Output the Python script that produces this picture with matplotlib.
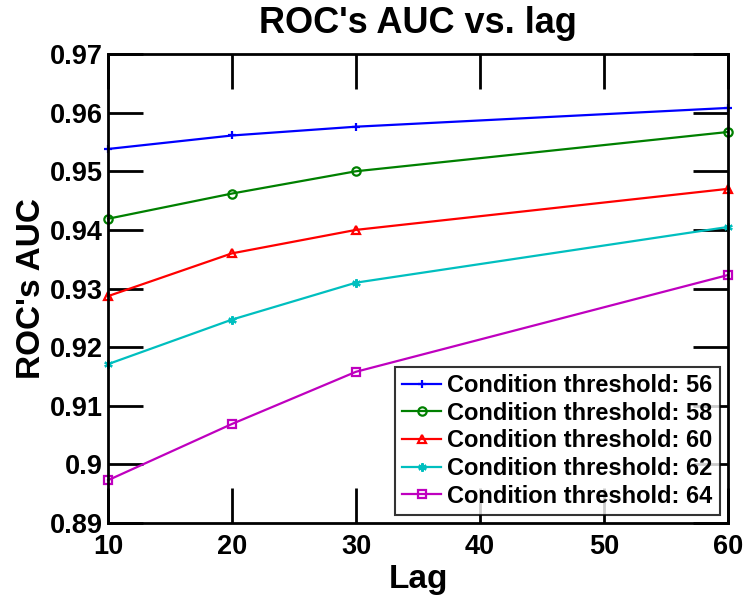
import matplotlib
matplotlib.use("Agg")
import matplotlib.pyplot as plt

# Data
lags = [10, 20, 30, 60]
thresholds = [56, 58, 60, 62, 64]
auc_56 = [0.9538, 0.9561, 0.9576, 0.9608]
auc_58 = [0.9419, 0.9462, 0.9500, 0.9567]
auc_60 = [0.9287, 0.9360, 0.9400, 0.9470]
auc_62 = [0.9171, 0.9247, 0.9310, 0.9405]
auc_64 = [0.8973, 0.9069, 0.9158, 0.9323]

series = [auc_56, auc_58, auc_60, auc_62, auc_64]
colors = ["#0000ff", "#008000", "#ff0000", "#00bfbf", "#bf00bf"]
markers = ["+", "o", "^", (6, 2, 0), "s"]

plt.rcParams["font.family"] = ["Liberation Sans", "DejaVu Sans"]
plt.rcParams["font.weight"] = "bold"

fig = plt.figure(figsize=(7.44, 6.0), dpi=100)
ax = fig.add_axes([0.1452, 0.1283, 0.8333, 0.7817])

for vals, th, c, m in zip(series, thresholds, colors, markers):
    ax.plot(lags, vals, color=c, marker=m, markersize=6, markerfacecolor="none",
            markeredgewidth=1.6, linewidth=1.6,
            label=f"Condition threshold: {th}", clip_on=False)

ax.set_xlim(10, 60)
ax.set_ylim(0.89, 0.97)
ax.set_xticks([10, 20, 30, 40, 50, 60])
ax.set_yticks([0.89, 0.90, 0.91, 0.92, 0.93, 0.94, 0.95, 0.96, 0.97])
ax.set_yticklabels(["0.89", "0.9", "0.91", "0.92", "0.93", "0.94", "0.95", "0.96", "0.97"])

ax.tick_params(direction="in", length=25, width=2, top=True, right=True,
               labelsize=19.5)
ax.tick_params(axis="x", pad=8)
ax.tick_params(axis="y", pad=4)
for lab in ax.get_xticklabels() + ax.get_yticklabels():
    lab.set_fontweight("bold")
for sp in ax.spines.values():
    sp.set_linewidth(2)

ax.set_title("ROC's AUC vs. lag", fontsize=26, fontweight="bold", pad=15)
ax.set_xlabel("Lag", fontsize=24, fontweight="bold", labelpad=3)
ax.set_ylabel("ROC's AUC", fontsize=24, fontweight="bold", labelpad=2)

leg = ax.legend(loc="lower right", frameon=True, fancybox=False,
                handlelength=1.65, handletextpad=0.25, borderpad=0.3,
                labelspacing=0.2, borderaxespad=0.35,
                prop={"weight": "bold", "size": 17})
leg.get_frame().set_edgecolor("black")
leg.get_frame().set_linewidth(1.5)

fig.savefig("out.png", dpi=100)
